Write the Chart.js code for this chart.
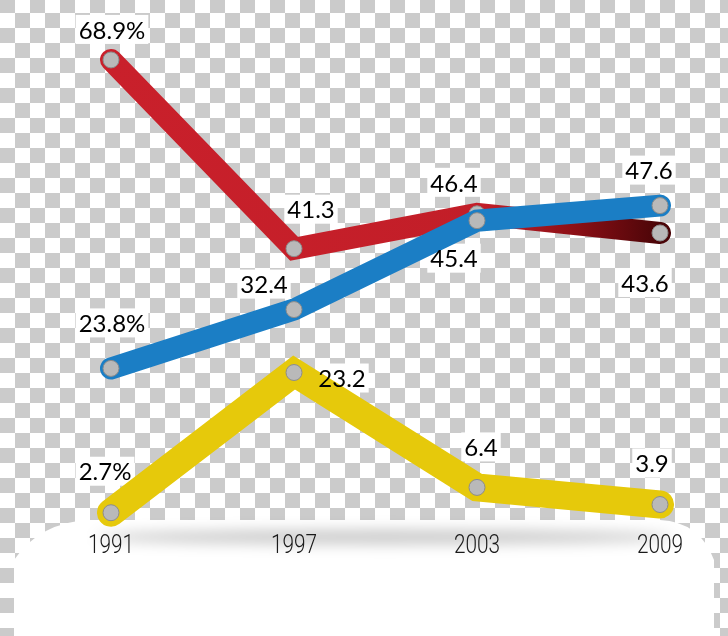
<!DOCTYPE html>
<html>
<head>
<meta charset="utf-8">
<script src="https://cdn.jsdelivr.net/npm/chart.js@4.4.1/dist/chart.umd.min.js"></script>
<style>
  html, body { margin: 0; padding: 0; }
  body {
    width: 728px; height: 636px; overflow: hidden;
    background: repeating-conic-gradient(#fff 0 25%, #cbcbcb 0 50%) 0 -2px / 30px 30px;
  }
  #wrap { position: relative; width: 728px; height: 636px; }
</style>
</head>
<body>
<div id="wrap"><canvas id="chart" width="728" height="636"></canvas></div>
<script>
// years on the x axis
const years = ['1991', '1997', '2003', '2009'];

// series values (percent)
const redValues = [68.9, 41.3, 46.4, 43.6];
const blueValues = [23.8, 32.4, 45.4, 47.6];
const yellowValues = [2.7, 23.2, 6.4, 3.9];

// where each value label sits relative to its point (dx, dy)
const redLabelPos = [[1, -30], [17, -39], [-23, -31], [-15, 50]];
const blueLabelPos = [[1, -45], [-30, -25], [-23, 38], [-11, -35]];
const yellowLabelPos = [[-6, -41], [48, 6], [4, -40], [-8, -41]];

const fmt = (v, i) => v.toFixed(1) + (i === 0 ? '%' : '');
const LABEL_FONT = '24px Lato, "Noto Sans", sans-serif';

// white floor + soft shadow under the lines
const floorPlugin = {
  id: 'floor',
  beforeDraw(chart) {
    const ctx = chart.ctx;
    ctx.save();
    ctx.fillStyle = '#fff';
    ctx.beginPath();
    ctx.moveTo(14, 560);
    ctx.quadraticCurveTo(40, 522, 90, 520);
    ctx.lineTo(660, 520);
    ctx.quadraticCurveTo(700, 522, 714, 560);
    ctx.lineTo(714, 636);
    ctx.lineTo(14, 636);
    ctx.closePath();
    ctx.fill();
    ctx.filter = 'blur(7px)';
    ctx.fillStyle = 'rgba(0,0,0,0.22)';
    ctx.beginPath();
    ctx.ellipse(385, 537, 290, 7, 0, 0, Math.PI * 2);
    ctx.fill();
    ctx.restore();
  }
};

function eachLabel(chart, fn) {
  chart.data.datasets.forEach((ds, di) => {
    chart.getDatasetMeta(di).data.forEach((pt, i) => {
      const [dx, dy] = ds.labelPos[i];
      fn(fmt(ds.data[i], i), pt.x + dx, pt.y + dy);
    });
  });
}

// value labels on white boxes (boxes under the lines), and narrow year labels on the x ticks
const labelPlugin = {
  id: 'valueLabels',
  beforeDatasetsDraw(chart) {
    const ctx = chart.ctx;
    ctx.save();
    ctx.font = LABEL_FONT;
    ctx.fillStyle = '#fff';
    eachLabel(chart, (txt, x, y) => {
      const w = ctx.measureText(txt).width + 6;
      ctx.fillRect(x - w / 2, y - 15, w, 29);
    });
    ctx.restore();
  },
  afterDatasetsDraw(chart) {
    const ctx = chart.ctx;
    ctx.save();
    ctx.font = LABEL_FONT;
    ctx.textAlign = 'center';
    ctx.textBaseline = 'middle';
    ctx.fillStyle = '#000';
    eachLabel(chart, (txt, x, y) => ctx.fillText(txt, x, y + 1));

    const xs = chart.scales.x;
    ctx.font = '300 26px Roboto, sans-serif';
    ctx.fillStyle = '#1a1a1a';
    xs.ticks.forEach((t, i) => {
      const x = xs.getPixelForTick(i);
      ctx.save();
      ctx.translate(x, 546);
      ctx.scale(0.8, 1);
      ctx.fillText(chart.data.labels[i], 0, 0);
      ctx.restore();
    });
    ctx.restore();
  }
};

function redGradient(context) {
  const { chart } = context;
  const area = chart.chartArea;
  if (!area) return '#c9202b';
  const g = chart.ctx.createLinearGradient(area.left, 0, area.right, 0);
  g.addColorStop(0, '#c9202b');
  g.addColorStop(0.68, '#c21e28');
  g.addColorStop(0.85, '#8a0f15');
  g.addColorStop(1, '#4a0508');
  return g;
}

const pointStyle = {
  pointRadius: 8,
  pointBackgroundColor: '#b9b9b9',
  pointBorderColor: '#8c8c8c',
  pointBorderWidth: 1
};

new Chart(document.getElementById('chart'), {
  type: 'line',
  data: {
    labels: years,
    datasets: [
      Object.assign({
        data: redValues,
        labelPos: redLabelPos,
        borderColor: redGradient,
        borderWidth: 22,
        order: 2
      }, pointStyle),
      Object.assign({
        data: blueValues,
        labelPos: blueLabelPos,
        borderColor: '#1b7ec5',
        borderWidth: 22,
        order: 1
      }, pointStyle),
      Object.assign({
        data: yellowValues,
        labelPos: yellowLabelPos,
        borderColor: '#e6c90b',
        borderWidth: 28,
        order: 3
      }, pointStyle)
    ]
  },
  options: {
    responsive: false,
    animation: false,
    layout: { autoPadding: false, padding: { left: 111, right: 68, top: 10, bottom: 64 } },
    elements: {
      line: { tension: 0, borderCapStyle: 'round', borderJoinStyle: 'miter', fill: false }
    },
    plugins: {
      legend: { display: false },
      tooltip: { enabled: false }
    },
    scales: {
      x: {
        offset: false,
        grid: { display: false },
        border: { display: false },
        ticks: {
          color: 'rgba(0,0,0,0)',
          padding: 2,
          font: { family: 'Roboto, sans-serif', size: 24 }
        }
      },
      y: {
        display: false,
        min: 0,
        max: 76.2
      }
    }
  },
  plugins: [floorPlugin, labelPlugin]
});
</script>
</body>
</html>
